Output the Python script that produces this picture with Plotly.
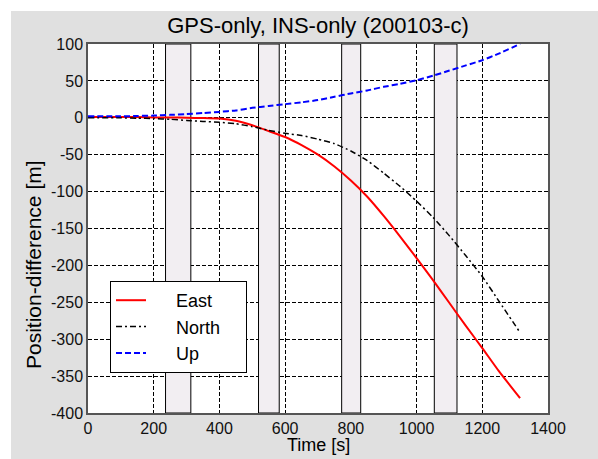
import plotly.graph_objects as go

# ---- data ----
time_s = [0, 100, 150, 200, 250, 300, 350, 400, 450, 500, 550, 600, 650, 700, 750, 800, 850,
          900, 950, 1000, 1050, 1100, 1150, 1200, 1250, 1315]
east = [1, 1, 1, 0.5, 0.5, 0, -0.3, -1, -4, -10, -18, -26, -37, -50, -66, -85, -107,
        -133, -161, -190, -220, -251, -282, -312, -343, -380]
north = [0, 0, -0.5, -1, -2, -3.5, -5, -6, -8, -12, -17, -21, -24, -29, -35, -45, -58,
         -75, -93, -113, -135, -160, -187, -215, -248, -291]
up = [2, 2, 2.5, 3, 4, 5, 6.5, 8, 10, 13.5, 16, 18.5, 21, 24, 28.5, 33, 37,
      42, 46, 51, 57, 64, 71, 78, 87, 100]

# GPS outage intervals [s]
outage_start = [236, 519, 772, 1054]
outage_end = [313, 582, 830, 1123]

x_ticks = [0, 200, 400, 600, 800, 1000, 1200, 1400]
y_ticks = [100, 50, 0, -50, -100, -150, -200, -250, -300, -350, -400]

FONT = "Liberation Sans, Arial, Helvetica, sans-serif"
NB = "\u00a0"
W, H = 598, 459
ML, MR, MT, MB = 88, 50, 44, 46
PW, PH = W - ML - MR, H - MT - MB

fig = go.Figure()
fig.add_trace(go.Scatter(x=time_s, y=east, name=NB * 5 + "East", mode="lines",
                         line=dict(color="#ff0000", width=2, shape="spline", smoothing=0.5)))
fig.add_trace(go.Scatter(x=time_s, y=north, name=NB * 5 + "North" + NB * 4, mode="lines",
                         line=dict(color="#000000", width=1.5, dash="6px,3px,2px,3px",
                                   shape="spline", smoothing=0.5)))
fig.add_trace(go.Scatter(x=time_s, y=up, name=NB * 5 + "Up", mode="lines",
                         line=dict(color="#0000ff", width=2, dash="6px,3px",
                                   shape="spline", smoothing=0.5)))

shapes = [
    dict(type="rect", xref="paper", yref="paper",
         x0=(11 - ML) / PW, x1=1.2, y0=-0.3, y1=1 + (MT - 11) / PH,
         fillcolor="#e0e0e0", line=dict(width=0), layer="below"),
    dict(type="rect", xref="paper", yref="paper", x0=0, x1=1, y0=0, y1=1,
         fillcolor="#ffffff", line=dict(width=0), layer="below"),
]
for s, e in zip(outage_start, outage_end):
    shapes.append(dict(type="rect", xref="x", yref="y", x0=s, x1=e, y0=-400, y1=100,
                       fillcolor="#f2eef2", line=dict(color="#000000", width=1),
                       layer="between"))

axis_common = dict(showgrid=True, gridcolor="#000000", gridwidth=1, griddash="4px,2px",
                   showline=True, linecolor="#555555", linewidth=1.5, mirror=True,
                   zeroline=False, ticks="", automargin=False,
                   tickfont=dict(size=16, color="#111111", family=FONT))

annotations = [
    dict(text="Time [s]", xref="paper", yref="paper", x=0.5, y=-(445 - (MT + PH)) / PH,
         xanchor="center", yanchor="middle", showarrow=False,
         font=dict(size=18, family=FONT, color="#000000")),
    dict(text="Position-difference [m]", xref="paper", yref="paper",
         x=-(ML - 33) / PW, y=1 - (265 - MT) / PH, textangle=-90,
         xanchor="center", yanchor="middle", showarrow=False,
         font=dict(size=21, family=FONT, color="#000000")),
]

fig.update_layout(
    width=W, height=H,
    margin=dict(l=ML, r=MR, t=MT, b=MB),
    paper_bgcolor="#ffffff", plot_bgcolor="#ffffff",
    font=dict(family=FONT, color="#000000"),
    title=dict(text="GPS-only, INS-only (200103-c)", x=(ML + PW / 2) / W, xanchor="center",
               xref="container", yref="container", y=1 - 25 / H, yanchor="middle",
               font=dict(size=22, family=FONT, color="#000000")),
    xaxis=dict(range=[0, 1400], tickvals=x_ticks, ticktext=[str(v) for v in x_ticks],
               **axis_common),
    yaxis=dict(range=[-400, 100], tickvals=y_ticks, ticktext=[str(v) for v in y_ticks],
               **axis_common),
    legend=dict(x=(110 - ML) / PW, y=(MT + PH - 281) / PH, xanchor="left", yanchor="top",
                bgcolor="#ffffff", bordercolor="#000000", borderwidth=1,
                font=dict(size=18, family=FONT, color="#000000"),
                tracegroupgap=0),
    annotations=annotations,
    shapes=shapes,
    showlegend=True,
)

fig.write_html("out.html")
